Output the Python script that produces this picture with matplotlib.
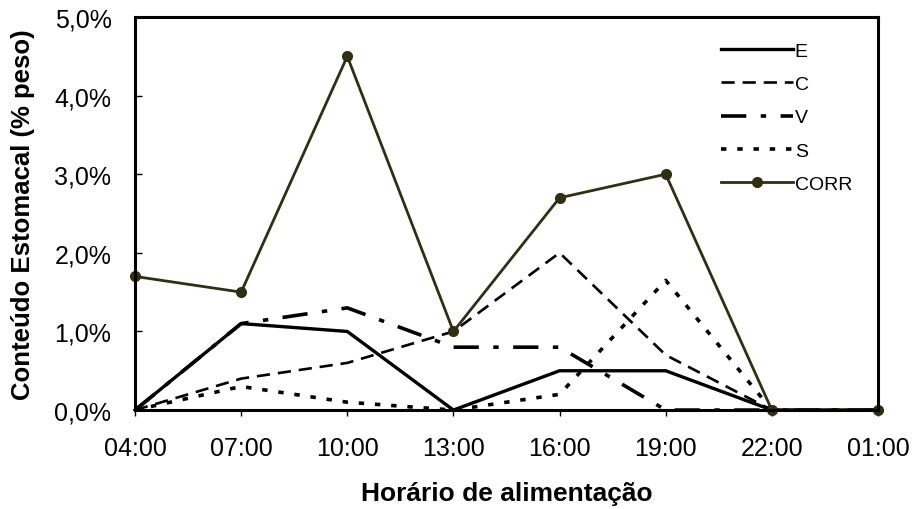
import matplotlib
matplotlib.use("Agg")
import matplotlib.pyplot as plt
from matplotlib.ticker import FuncFormatter

plt.rcParams['font.family'] = ['Liberation Sans', 'DejaVu Sans']

horarios = ["04:00", "07:00", "10:00", "13:00", "16:00", "19:00", "22:00", "01:00"]

# stomach content, % of body weight
E = [0.0, 1.1, 1.0, 0.0, 0.5, 0.5, 0.0, 0.0]
C = [0.0, 0.4, 0.6, 1.0, 2.0, 0.7, 0.0, 0.0]
V = [0.0, 1.1, 1.3, 0.8, 0.8, 0.0, 0.0, 0.0]
S = [0.0, 0.3, 0.1, 0.0, 0.2, 1.65, 0.0, 0.0]
CORR = [1.7, 1.5, 4.5, 1.0, 2.7, 3.0, 0.0, 0.0]

x = list(range(len(horarios)))

fig = plt.figure(figsize=(9.16, 5.10), dpi=100)
ax = fig.add_axes([0.1474, 0.194, 0.8111, 0.7707])

ax.plot(x, E, color="black", linewidth=2.4, linestyle="-", label="E")
ax.plot(x, C, color="black", linewidth=1.9, linestyle=(0, (5, 3)), label="C")
ax.plot(x, V, color="black", linewidth=2.6, linestyle=(0, (7, 4, 1.5, 4)), label="V")
ax.plot(x, S, color="black", linewidth=2.6, linestyle=(0, (1.5, 3)), label="S")
ax.plot(x, CORR, color="#2f2f14", linewidth=2.0, marker="o", markersize=7,
        label="CORR")

ax.set_xlim(0, 7)
ax.set_ylim(0, 5)
ax.set_xticks(x)
ax.set_xticklabels(horarios)
ax.set_yticks([0, 1, 2, 3, 4, 5])
ax.yaxis.set_major_formatter(FuncFormatter(lambda v, p: f"{v:.1f}%".replace(".", ",")))

ax.tick_params(axis="x", direction="out", length=4, width=1, labelsize=18, pad=15)
ax.tick_params(axis="y", direction="in", length=5, width=1, labelsize=18, pad=17)

for s in ax.spines.values():
    s.set_linewidth(2.2)
    s.set_color("black")

ax.set_xlabel("Horário de alimentação", fontsize=19, fontweight="bold", labelpad=15)
ax.set_ylabel("Conteúdo Estomacal (% peso)", fontsize=18.5, fontweight="bold", labelpad=14)

ax.legend(loc="upper left", bbox_to_anchor=(0.778, 0.955), frameon=False,
          fontsize=14, handlelength=3.7, handletextpad=0.1,
          labelspacing=0.8, borderaxespad=0)
for line in ax.get_lines():
    line.set_clip_on(False)

fig.savefig("out.png", dpi=100)
